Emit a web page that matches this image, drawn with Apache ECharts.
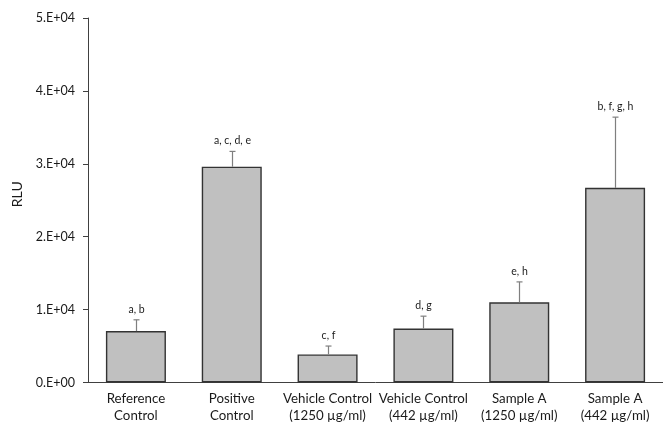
<!DOCTYPE html>
<html><head><meta charset="utf-8">
<script src="https://cdn.jsdelivr.net/npm/echarts@6/dist/echarts.min.js"></script>
<style>html,body{margin:0;padding:0;background:#fff}#c{width:663px;height:426px}</style>
</head><body><div id="c"></div>
<script>
var categories = ['Reference\nControl', 'Positive\nControl', 'Vehicle Control\n(1250 µg/ml)', 'Vehicle Control\n(442 µg/ml)', 'Sample A\n(1250 µg/ml)', 'Sample A\n(442 µg/ml)'];
var means = [7050, 29600, 3850, 7400, 11000, 26700];
var errorTops = [8600, 31700, 5000, 9100, 13800, 36400];
var letters = ['a, b', 'a, c, d, e', 'c, f', 'd, g', 'e, h', 'b, f, g, h'];
var yTicks = [0, 10000, 20000, 30000, 40000, 50000];

var FONT = 'Lato, "Open Sans", sans-serif';
function sci(v){
  if (v === 0) return '0.E+00';
  var e = Math.floor(Math.log10(Math.abs(v)));
  var m = Math.round(v / Math.pow(10, e));
  return m + '.E+' + (e < 10 ? '0' + e : e);
}
var chart = echarts.init(document.getElementById('c'));
chart.setOption({
  animation: false,
  grid: {left: 88, top: 18, width: 578, bottom: 43.5},
  xAxis: {
    type: 'category', data: categories,
    axisLine: {lineStyle: {color: '#404040', width: 1}},
    axisTick: {show: false},
    axisLabel: {color: '#1a1a1a', fontFamily: FONT, fontSize: 13.3, lineHeight: 16.5, margin: 8, interval: 0}
  },
  yAxis: {
    type: 'value', min: yTicks[0], max: yTicks[yTicks.length-1], interval: yTicks[1]-yTicks[0],
    name: 'RLU', nameLocation: 'middle', nameGap: 61, nameRotate: 90,
    nameTextStyle: {color: '#1a1a1a', fontFamily: FONT, fontSize: 14, padding: [0, 0, 0, 12]},
    axisLine: {show: true, lineStyle: {color: '#404040', width: 1}},
    axisTick: {show: true, length: 5, lineStyle: {color: '#404040'}},
    splitLine: {show: false},
    axisLabel: {color: '#1a1a1a', fontFamily: FONT, fontSize: 12.5, margin: 13, formatter: sci}
  },
  series: [{
    type: 'bar', data: means, barWidth: 60,
    itemStyle: {color: '#c0c0c0', borderColor: '#333', borderWidth: 1.4}
  }, {
    type: 'custom',
    data: means.map(function(m, i){ return [i, m, errorTops[i]]; }),
    renderItem: function(params, api){
      var x = api.coord([api.value(0), api.value(1)]);
      var t = api.coord([api.value(0), api.value(2)]);
      var cx = Math.round(x[0]) + 0.5;
      return {type: 'group', children: [
        {type: 'line', shape: {x1: cx, y1: x[1], x2: cx, y2: t[1]}, style: {stroke: '#7f7f7f', lineWidth: 1.2}},
        {type: 'line', shape: {x1: cx - 3, y1: t[1], x2: cx + 3, y2: t[1]}, style: {stroke: '#7f7f7f', lineWidth: 1.2}},
        {type: 'text', x: cx, y: t[1] - 5, style: {text: letters[params.dataIndex], fill: '#1a1a1a', font: '10.5px ' + FONT, align: 'center', verticalAlign: 'bottom'}}
      ]};
    },
    z: 5
  }]
});
</script></body></html>
